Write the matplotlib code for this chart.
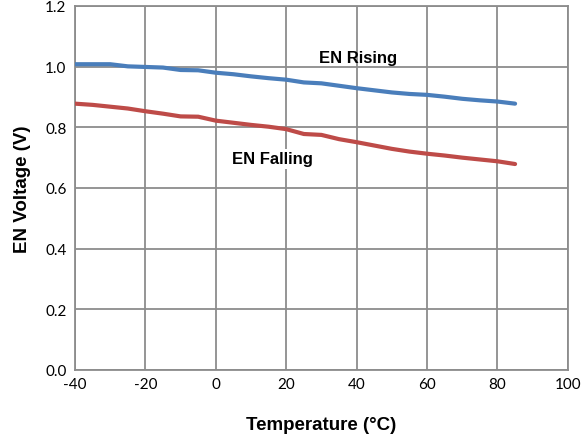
import matplotlib
matplotlib.use('Agg')
import matplotlib.pyplot as plt

# Temperature (degC) and EN thresholds
temperature = [-40, -35, -30, -25, -20, -15, -10, -5, 0, 5, 10, 15, 20,
               25, 30, 35, 40, 45, 50, 55, 60, 65, 70, 75, 80, 85]
en_rising = [1.008, 1.008, 1.008, 1.001, 0.999, 0.997, 0.989, 0.988, 0.980,
             0.975, 0.968, 0.962, 0.957, 0.948, 0.945, 0.937, 0.929, 0.922,
             0.915, 0.910, 0.907, 0.901, 0.894, 0.889, 0.885, 0.878]
en_falling = [0.878, 0.874, 0.868, 0.862, 0.853, 0.845, 0.836, 0.835, 0.822,
              0.815, 0.808, 0.802, 0.794, 0.778, 0.775, 0.761, 0.751, 0.740,
              0.729, 0.720, 0.713, 0.707, 0.700, 0.694, 0.688, 0.679]
x_ticks = [-40, -20, 0, 20, 40, 60, 80, 100]
y_ticks = [0.0, 0.2, 0.4, 0.6, 0.8, 1.0, 1.2]

grid_color = '#8c8c8c'

fig = plt.figure(figsize=(5.84, 4.39), dpi=100)
ax = fig.add_axes([0.1284, 0.1549, 0.844, 0.8292])

ax.plot(temperature, en_rising, color='#4a7ebb', lw=3, solid_capstyle='round', zorder=3)
ax.plot(temperature, en_falling, color='#be4b48', lw=3, solid_capstyle='round', zorder=3)

ax.set_xlim(-40, 100)
ax.set_ylim(0, 1.2)
ax.set_xticks(x_ticks)
ax.set_yticks(y_ticks)
ax.set_xticklabels([str(t) for t in x_ticks])
ax.set_yticklabels(['%.1f' % v for v in y_ticks])
ax.grid(True, color=grid_color, lw=1.3)
ax.set_axisbelow(True)
for s in ax.spines.values():
    s.set_color(grid_color)
    s.set_linewidth(1.3)
ax.tick_params(length=0, labelsize=11)
ax.tick_params(axis='x', pad=5)
ax.tick_params(axis='y', pad=6)
for lbl in ax.get_xticklabels() + ax.get_yticklabels():
    lbl.set_family('Lato')

ax.set_xlabel('Temperature (°C)', fontsize=13.5, fontweight='bold',
              family='Liberation Sans', labelpad=18)
ax.set_ylabel('EN Voltage (V)', fontsize=13.5, fontweight='bold',
              family='Liberation Sans', labelpad=10)

ax.text(40.4, 1.03, 'EN Rising', fontsize=12, fontweight='bold',
        family='Liberation Sans', ha='center', va='center', zorder=4)
ax.text(16, 0.696, 'EN Falling', fontsize=12, fontweight='bold',
        family='Liberation Sans', ha='center', va='center', zorder=4,
        bbox=dict(facecolor='white', edgecolor='none', pad=2))

fig.savefig('out.png', dpi=100)
